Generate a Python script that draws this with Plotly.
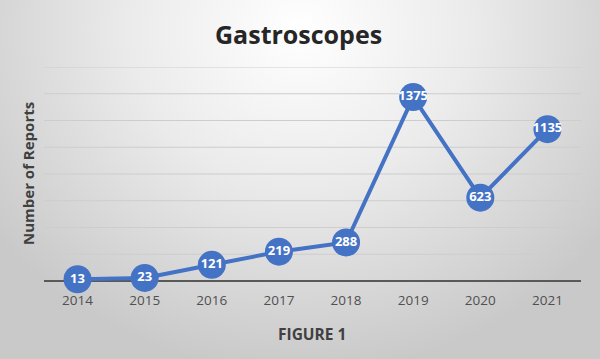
import plotly.graph_objects as go
import urllib.parse

years = ["2014", "2015", "2016", "2017", "2018", "2019", "2020", "2021"]
reports = [13, 23, 121, 219, 288, 1375, 623, 1135]
title_text = "Gastroscopes"
y_title = "Number of Reports"
x_title = "FIGURE 1"
grid_values = [200, 400, 600, 800, 1000, 1200, 1400, 1600]

W, H = 600, 359
ML, MR, MT, MB = 44, 19, 67, 78
PW, PH = W - ML - MR, H - MT - MB

def px_x(x):
    return (x - ML) / PW

def px_y(y):
    return (H - MB - y) / PH

svg = ('<svg xmlns="http://www.w3.org/2000/svg" width="600" height="359" viewBox="0 0 600 359" preserveAspectRatio="none">'
       '<defs><radialGradient id="g" cx="300" cy="30" r="380" gradientUnits="userSpaceOnUse" gradientTransform="translate(300 30) scale(1 0.9) translate(-300 -30)">'
       '<stop offset="0" stop-color="#ffffff"/><stop offset="0.45" stop-color="#ebebeb"/><stop offset="1" stop-color="#c9c9c9"/>'
       '</radialGradient></defs><rect width="600" height="359" fill="url(#g)"/></svg>')
bg_src = "data:image/svg+xml;charset=utf-8," + urllib.parse.quote(svg)

blue = "#4472C4"
fig = go.Figure()
fig.add_trace(go.Scatter(
    x=years, y=reports, mode="lines+markers+text",
    line=dict(color=blue, width=4),
    marker=dict(size=28, color=blue, line=dict(color=blue, width=0)),
    text=[str(v) for v in reports], textposition="middle center",
    textfont=dict(family="Open Sans", size=13, color="white", weight="bold"),
    cliponaxis=False, hoverinfo="skip",
))

shapes = [dict(type="line", xref="paper", yref="y", x0=0, x1=1, y0=v, y1=v,
               line=dict(color="#cdcdcd", width=1), layer="below") for v in grid_values]

fig.update_layout(
    width=W, height=H,
    margin=dict(l=ML, r=MR, t=MT, b=MB, autoexpand=False),
    paper_bgcolor="rgba(0,0,0,0)", plot_bgcolor="rgba(0,0,0,0)",
    showlegend=False,
    shapes=shapes,
    images=[dict(source=bg_src, xref="paper", yref="paper", x=-ML / PW, y=1 + MT / PH,
                 sizex=W / PW, sizey=H / PH, xanchor="left", yanchor="top",
                 sizing="stretch", layer="below")],
    annotations=[
        dict(text=title_text, xref="paper", yref="paper", x=px_x(298), y=px_y(34),
             xanchor="center", yanchor="middle", showarrow=False,
             font=dict(family="Open Sans", size=25, color="#262626", weight="bold")),
        dict(text=y_title, xref="paper", yref="paper", x=px_x(28), y=px_y(174),
             xanchor="center", yanchor="middle", showarrow=False, textangle=-90,
             font=dict(family="Open Sans", size=15, color="#404040", weight="bold")),
        dict(text=x_title, xref="paper", yref="paper", x=px_x(312), y=px_y(334),
             xanchor="center", yanchor="middle", showarrow=False,
             font=dict(family="Open Sans", size=15.5, color="#404040", weight="bold")),
    ],
    xaxis=dict(type="category", range=[-0.5, 7.5], showgrid=False, zeroline=False,
               showline=False, automargin=False,
               tickfont=dict(family="Open Sans", size=13.5, color="#505050"),
               ticks="", ticklabelstandoff=9),
    yaxis=dict(range=[0, 1600], showticklabels=False, showgrid=False,
               automargin=False, zeroline=True, zerolinecolor="#595959",
               zerolinewidth=2, showline=False),
)

fig.write_html("out.html", config={"displayModeBar": False},
               post_script="document.body.style.margin='0';document.body.style.overflow='hidden';")
